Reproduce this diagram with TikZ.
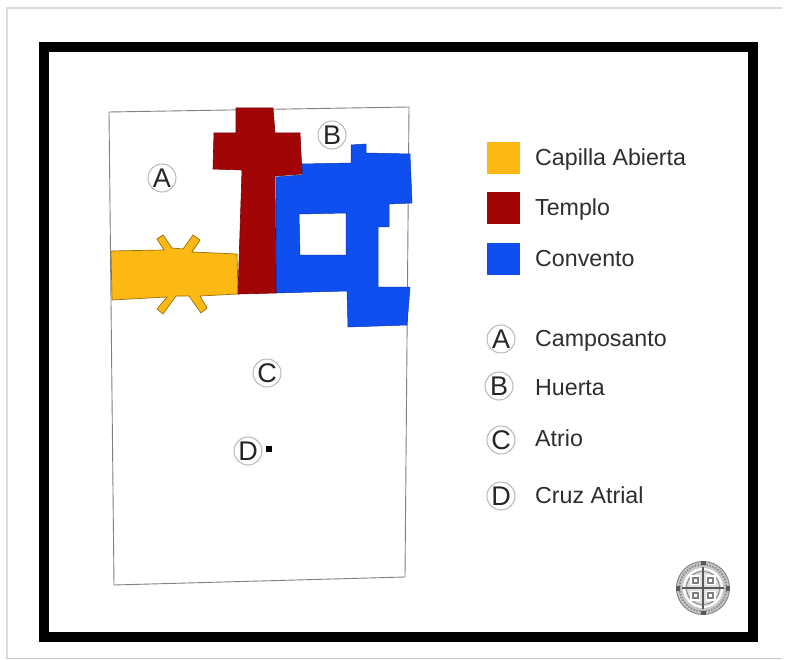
\documentclass[tikz,border=0pt]{standalone}
\usepackage{fontspec}
\setmainfont{Liberation Sans}
\tikzset{
  legendtext/.style={anchor=base west,font=\fontsize{23.2}{24}\selectfont,text=black!82,inner sep=0pt,draw=none},
  marker/.style={circle,draw=black!28,fill=white,line width=1pt,minimum size=28pt,inner sep=0pt,font=\fontsize{27}{27}\selectfont,text=black!85},
  swatch/.style={minimum width=33pt,minimum height=32pt,inner sep=0pt,draw=none}
}
\definecolor{capilla}{HTML}{FDB913}
\definecolor{templo}{HTML}{A20505}
\definecolor{convento}{HTML}{0F4FF0}
\begin{document}
\begin{tikzpicture}[x=1pt,y=-1pt]
\useasboundingbox (0,0) rectangle (789,660);
\fill[white] (0,0) rectangle (789,660);
% page edge
\draw[black!14,line width=1.2pt] (7,659) -- (7,8) -- (782,8);
\draw[black!22,line width=1pt] (7,658) -- (782,658);
% heavy frame
\draw[black,line width=10pt,line join=miter] (44,47) rectangle (753,637);
% site outline
\draw[black!50,line width=0.9pt] (109,112) -- (409,107) -- (405,577) -- (114,585) -- cycle;
% convento
\fill[convento,even odd rule,draw=convento!70!black,line width=0.5pt]
  (276,177) -- (302,175) -- (302,164) -- (351,163) -- (351,145) -- (366,144) -- (366,153) -- (410,154) -- (412,203)
  -- (389,204) -- (389,227) -- (378,227) -- (378,287) -- (410,287) -- (407,325) -- (348,327) -- (347,291) -- (276,293) -- cycle
  (299,214) -- (346,213) -- (346,255) -- (300,255) -- cycle;
% capilla
\filldraw[fill=capilla,draw=capilla!60!black,line width=0.7pt]
  (111,251) -- (164,250) -- (157,239) -- (163,235) -- (172,248) -- (183,249) -- (193,235) -- (200,240) -- (192,252)
  -- (237,254) -- (238,294) -- (200,296) -- (207,308) -- (201,313) -- (189,296) -- (176,296) -- (163,314) -- (157,309)
  -- (167,297) -- (112,300) -- cycle;
% templo
\filldraw[fill=templo,draw=templo!75!black,line width=0.6pt]
  (236,108) -- (273,108) -- (275,133) -- (300,133) -- (302,174) -- (275,176) -- (276,293) -- (238,294) -- (242,170)
  -- (213,169) -- (214,133) -- (236,133) -- cycle;
% map markers
\node[marker] (mA) at (162,178) {A};
\node[marker] (mB) at (332,135) {B};
\node[marker] (mC) at (267,373) {C};
\node[marker] (mD) at (248,451) {D};
\fill[black] (266,446) rectangle (272,452);
% legend swatches
\node[swatch,fill=capilla] (s1) at (503.5,158) {};
\node[swatch,fill=templo] (s2) at (503.5,208) {};
\node[swatch,fill=convento] (s3) at (503.5,259) {};
\node[legendtext] (t1) at (535,166) {Capilla Abierta};
\node[legendtext] (t2) at (535,216) {Templo};
\node[legendtext] (t3) at (535,266) {Convento};
\node[marker] (k1) at (501,339) {A};
\node[marker] (k2) at (499,386) {B};
\node[marker] (k3) at (501,440) {C};
\node[marker] (k4) at (501,496) {D};
\node[legendtext] (t4) at (535,346) {Camposanto};
\node[legendtext] (t5) at (535,395) {Huerta};
\node[legendtext] (t6) at (535,446) {Atrio};
\node[legendtext] (t7) at (535,503) {Cruz Atrial};
% seal
\begin{scope}[shift={(703,588)}]
  \fill[black!22] (0,0) circle (27);
  \draw[black!50,line width=0.8pt] (0,0) circle (26.5);
  \draw[black!45,line width=2pt,dash pattern=on 1.5pt off 1.5pt] (0,0) circle (23.5);
  \draw[white,line width=2.2pt] (0,0) circle (19);
  \fill[black!12] (0,0) circle (17);
  \draw[black!50,line width=0.8pt] (0,0) circle (16.5);
  \foreach \sx/\sy in {1/1,1/-1,-1/1,-1/-1}{
    \fill[white] (\sx*3,\sy*3) rectangle (\sx*13,\sy*13);
    \draw[black!50,line width=1.1pt] (\sx*5,\sy*5) rectangle (\sx*10,\sy*10);
  }
  \draw[black!65,line width=1.8pt] (-21,0) -- (21,0) (0,-21) -- (0,21);
  \fill[black!65] (-2.5,-27) rectangle (2.5,-23);
  \fill[black!65] (-2.5,27) rectangle (2.5,23);
  \fill[black!65] (-27,-2.5) rectangle (-23,2.5);
  \fill[black!65] (27,-2.5) rectangle (23,2.5);
\end{scope}
\end{tikzpicture}
\end{document}
